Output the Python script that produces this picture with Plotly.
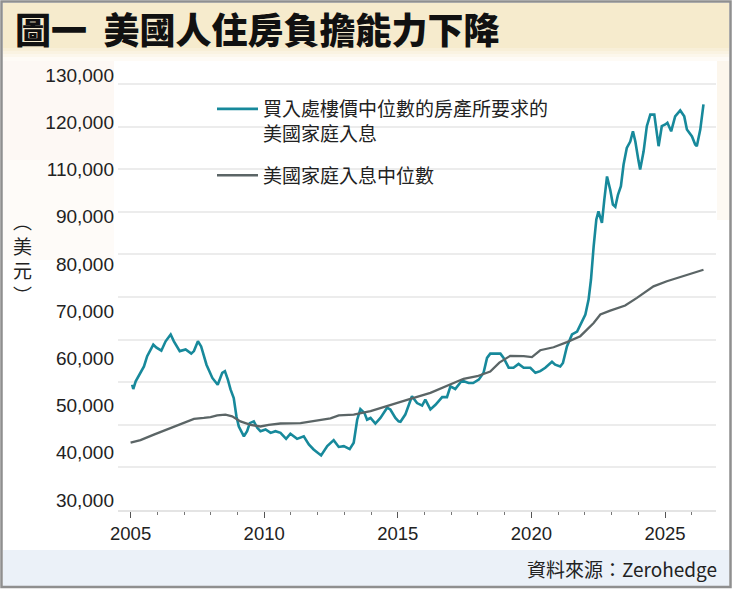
import plotly.graph_objects as go

# income needed to buy the median-priced home (USD), decimal years
required_years = [
    2005.06, 2005.10, 2005.19, 2005.37, 2005.50, 2005.62, 2005.85, 2005.97, 2006.15, 2006.31,
    2006.50, 2006.62, 2006.84, 2007.06, 2007.27, 2007.37, 2007.52, 2007.64, 2007.84, 2008.06,
    2008.26, 2008.43, 2008.53, 2008.64, 2008.74, 2008.86, 2008.96, 2009.05, 2009.24, 2009.36,
    2009.46, 2009.61, 2009.74, 2009.86, 2010.05, 2010.24, 2010.42, 2010.61, 2010.82, 2010.98,
    2011.23, 2011.48, 2011.67, 2011.85, 2012.13, 2012.36, 2012.60, 2012.79, 2012.98, 2013.20,
    2013.35, 2013.48, 2013.60, 2013.75, 2013.85, 2013.98, 2014.16, 2014.35, 2014.60, 2014.72,
    2014.91, 2015.03, 2015.10, 2015.28, 2015.53, 2015.72, 2015.91, 2016.03, 2016.22, 2016.41,
    2016.66, 2016.84, 2016.97, 2017.15, 2017.40, 2017.65, 2017.82, 2018.03, 2018.21, 2018.34,
    2018.46, 2018.84, 2018.96, 2019.15, 2019.33, 2019.52, 2019.71, 2019.96, 2020.15, 2020.33,
    2020.52, 2020.77, 2020.89, 2021.08, 2021.18, 2021.33, 2021.52, 2021.71, 2021.89, 2022.02,
    2022.14, 2022.23, 2022.33, 2022.43, 2022.51, 2022.64, 2022.73, 2022.83, 2022.95, 2023.05,
    2023.14, 2023.24, 2023.35, 2023.45, 2023.57, 2023.70, 2023.80, 2023.89, 2024.01, 2024.07,
    2024.20, 2024.32, 2024.45, 2024.60, 2024.76, 2024.88, 2025.01, 2025.09, 2025.23, 2025.38,
    2025.57, 2025.72, 2025.82, 2026.01, 2026.13, 2026.19, 2026.32, 2026.44,
]
required_income = [
    59400, 58400, 60200, 62300, 63700, 66100, 68800, 68100, 67400, 69600,
    71200, 69600, 67300, 67700, 66700, 67300, 69600, 68400, 64100, 61000,
    59400, 62200, 62600, 60600, 58300, 56300, 52000, 49600, 47300, 48500,
    50400, 50800, 49300, 48500, 48900, 48100, 48500, 48100, 46700, 47900,
    46700, 47300, 45400, 44200, 42800, 45000, 46400, 44800, 45000, 44300,
    45800, 51200, 53700, 52800, 51200, 51600, 50300, 51600, 54000, 53600,
    51600, 50800, 50700, 52400, 56700, 55100, 54500, 55900, 53600, 54700,
    56500, 56500, 59000, 58400, 60400, 59800, 59800, 60600, 62200, 65700,
    66700, 66700, 65700, 63400, 63400, 64300, 63400, 63400, 62200, 62600,
    63400, 64800, 64100, 63700, 64500, 68400, 71200, 71900, 74300, 75900,
    79400, 84100, 91900, 98200, 100100, 97400, 102900, 108300, 105200, 101700,
    101200, 104000, 106000, 111100, 115000, 116500, 118900, 116500, 111900, 109900,
    114200, 120100, 122800, 122800, 115400, 120100, 120500, 120900, 118900, 122400,
    123800, 122400, 119300, 117700, 115800, 115400, 119300, 125200,
]

# median household income (USD)
median_years = [
    2005.00, 2005.37, 2005.87, 2006.50, 2006.99, 2007.37, 2007.74, 2007.99, 2008.24, 2008.55,
    2008.80, 2009.11, 2009.49, 2009.86, 2010.17, 2010.61, 2011.36, 2011.73, 2012.48, 2012.79,
    2013.35, 2013.98, 2014.72, 2015.47, 2016.22, 2016.84, 2017.46, 2017.97, 2018.46, 2018.80,
    2019.21, 2019.71, 2020.02, 2020.33, 2020.83, 2021.33, 2021.83, 2022.33, 2022.58, 2022.95,
    2023.51, 2023.95, 2024.57, 2025.07, 2025.69, 2026.44,
]
median_income = [
    45800, 46400, 47700, 49300, 50400, 51400, 51600, 51800, 52200, 52400,
    52000, 50800, 50000, 49600, 50000, 50300, 50400, 50800, 51500, 52200,
    52400, 53200, 54700, 56100, 57500, 59100, 60800, 61400, 62500, 64600,
    66200, 66100, 65900, 67500, 68200, 69400, 70800, 73900, 75900, 76800,
    78000, 79800, 82500, 83700, 84900, 86400,
]

# the printed y labels skip 100,000 and are spread evenly, not on the gridlines
y_labels = ["30,000", "40,000", "50,000", "60,000", "70,000",
            "80,000", "90,000", "110,000", "120,000", "130,000"]
x_ticks = [2005, 2010, 2015, 2020, 2025]

name_required = "買入處樓價中位數的房產所要求的<br>美國家庭入息"
name_median = "美國家庭入息中位數"

W, H = 732, 600
L, R, T, B = 118, 16, 62, 90
pw, ph = W - L - R, H - T - B


def px_x(px):
    return (px - L) / pw


def px_y(py):
    return (H - B - py) / ph


TEAL = "#17899b"
GREY = "#5b6566"
CJK = "Noto Sans CJK TC"
LATIN = "Liberation Sans, Arial"

fig = go.Figure()
fig.add_trace(go.Scatter(x=required_years, y=required_income, mode="lines",
                         name=name_required, legendgroup="a",
                         line=dict(color=TEAL, width=2.6)))
fig.add_trace(go.Scatter(x=median_years, y=median_income, mode="lines",
                         name=name_median, legendgroup="b",
                         line=dict(color=GREY, width=2.3)))

x0 = 2005 - 12.6 / 26.72
fig.update_xaxes(range=[x0, x0 + pw / 26.72], tickmode="array", tickvals=x_ticks,
                 ticks="outside", ticklen=6, tickcolor="#555", tickwidth=1,
                 minor=dict(dtick=1, tick0=2005, ticks="outside", ticklen=3, tickcolor="#777"),
                 showgrid=False, showline=True, linecolor="#e4e4e4", linewidth=1.5,
                 tickfont=dict(family=LATIN, size=18.5, color="#222"), zeroline=False)
fig.update_yaxes(range=[30000, 30000 + ph * 10000 / 42.6], dtick=10000, tick0=30000,
                 showgrid=True, gridcolor="#ececec", gridwidth=1.5,
                 showticklabels=False, zeroline=False)

lab_scale = 10000 / 47.22
fig.update_layout(
    yaxis2=dict(overlaying="y", side="left", range=[30000 - 10 * lab_scale, 30000 + 438 * lab_scale],
                tickmode="array", tickvals=[30000 + 10000 * i for i in range(len(y_labels))],
                ticktext=y_labels, showgrid=False, zeroline=False, ticks="",
                ticklabelstandoff=3,
                tickfont=dict(family=LATIN, size=19, color="#222")),
)
# empty trace so the label axis is drawn
fig.add_trace(go.Scatter(x=[None], y=[None], yaxis="y2", showlegend=False, hoverinfo="skip"))

shapes = [
    dict(x0=px_x(3), x1=px_x(729), y0=px_y(3), y1=px_y(48), fillcolor="#f6ebcd"),
    dict(x0=px_x(3), x1=px_x(729), y0=px_y(48), y1=px_y(51), fillcolor="#f8efd8"),
    dict(x0=px_x(3), x1=px_x(729), y0=px_y(51), y1=px_y(54), fillcolor="#faf3e2"),
    dict(x0=px_x(3), x1=px_x(729), y0=px_y(54), y1=px_y(57), fillcolor="#fcf7ec"),
    dict(x0=px_x(3), x1=px_x(729), y0=px_y(57), y1=px_y(61), fillcolor="#fefbf6"),
    dict(x0=px_x(3), x1=px_x(114), y0=px_y(61), y1=px_y(160), fillcolor="#fdf8f4"),
    dict(x0=px_x(3), x1=px_x(114), y0=px_y(160), y1=px_y(260), fillcolor="#fefbf8"),
    dict(x0=px_x(717), x1=px_x(729), y0=px_y(61), y1=px_y(140), fillcolor="#fcf6ec"),
    dict(x0=px_x(717), x1=px_x(729), y0=px_y(140), y1=px_y(220), fillcolor="#fdf9f3"),
    dict(x0=px_x(3), x1=px_x(729), y0=px_y(550), y1=px_y(586), fillcolor="#ebf1f8"),
]
for s in shapes:
    s.update(type="rect", xref="paper", yref="paper", line=dict(width=0), layer="below")
shapes.append(dict(type="rect", xref="paper", yref="paper", x0=px_x(1.5), x1=px_x(730.5),
                   y0=px_y(1.5), y1=px_y(587), line=dict(color="#8f8f8f", width=2.5)))

annotations = [
    dict(text="圖一  美國人住房負擔能力下降", x=px_x(13), y=px_y(28), xanchor="left", yanchor="middle",
         font=dict(family=CJK, size=36, color="#111", weight=900)),
    dict(text="︵<br>美<br>元<br>︶", x=px_x(22), y=px_y(257), xanchor="center", yanchor="middle",
         font=dict(family=CJK, size=19, color="#222")),
    dict(text="資料來源：Zerohedge", x=px_x(719), y=px_y(568), xanchor="right", yanchor="middle",
         font=dict(family=CJK, size=19, color="#222")),
]
for a in annotations:
    a.update(xref="paper", yref="paper", showarrow=False)

fig.update_layout(
    width=W, height=H, margin=dict(l=L, r=R, t=T, b=B),
    paper_bgcolor="white", plot_bgcolor="white",
    shapes=shapes, annotations=annotations,
    legend=dict(x=px_x(212), y=px_y(90), xanchor="left", yanchor="top", valign="top",
                font=dict(family=CJK, size=19, color="#222"), bgcolor="rgba(0,0,0,0)",
                tracegroupgap=14, itemwidth=41),
    showlegend=True,
)

fig.write_html("out.html", config={"displayModeBar": False},
               post_script="document.body.style.margin='0';")
